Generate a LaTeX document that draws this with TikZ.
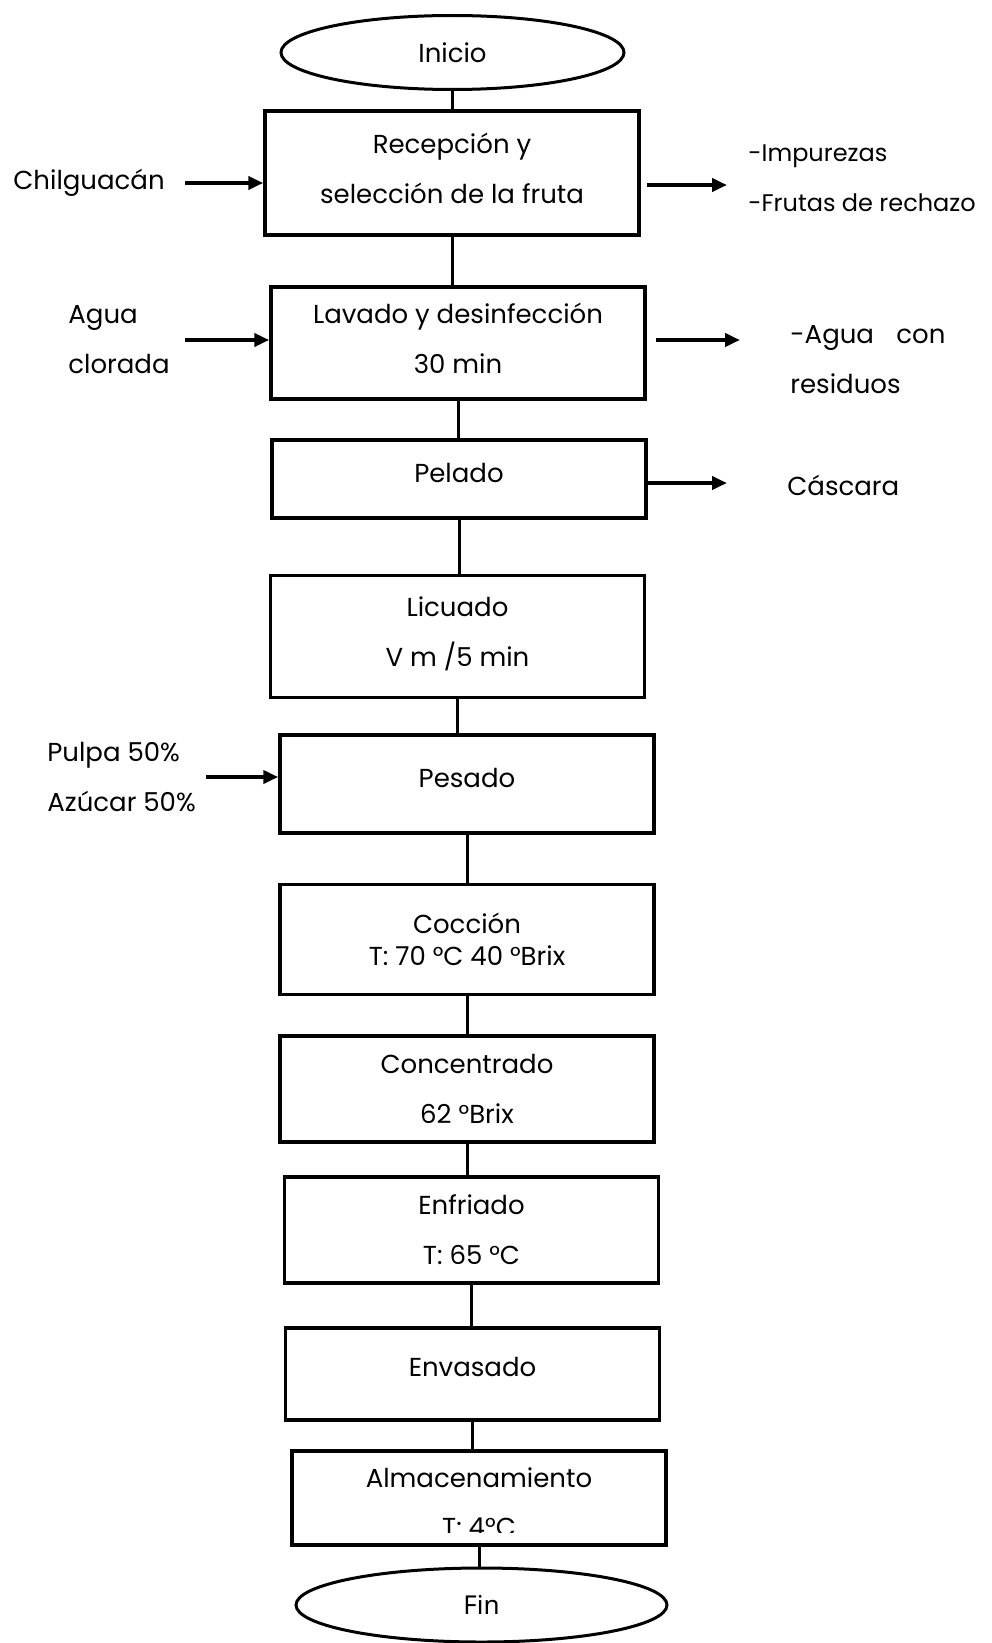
\documentclass[tikz,border=0pt]{standalone}
\usepackage{fontspec}
\setmainfont{Poppins}
\newfontfamily\finfont{Noto Sans}
\usetikzlibrary{arrows.meta, shapes.geometric}

\begin{document}
\begin{tikzpicture}[x=0.5pt, y=-0.5pt,
    every node/.style={font=\fontsize{13}{25}\selectfont},
    proceso/.style={draw, line width=1.75pt, minimum width=187pt, align=center, inner sep=0pt},
    alto/.style={execute at end node={\rule[-#1]{0pt}{0pt}}},
    terminal/.style={draw, ellipse, line width=1.5pt, inner sep=0pt},
    etiqueta/.style={inner sep=0pt, align=left},
    enlace/.style={line width=1.5pt},
    flujo/.style={line width=2pt, -{Triangle[length=7.5pt,width=6.5pt]}}]

    \useasboundingbox (0,0) rectangle (991,1643);

    % Inicio
    \node[terminal, minimum width=171.5pt, minimum height=37pt] (inicio) at (452.5,52.5) {Inicio};

    % Process steps
    \node[proceso, alto=5pt, minimum height=62pt] (recep) at (452,173) {Recepción y\\selección de la fruta};
    \node[proceso, alto=5pt, minimum height=56pt] (lavado) at (458,343) {Lavado y desinfección\\30 min};
    \node[proceso, alto=6pt, minimum height=39pt] (pelado) at (459,479) {Pelado};
    \node[proceso, alto=5pt, minimum height=61pt] (licuado) at (457.5,636.5) {Licuado\\V m /5 min};
    \node[proceso, alto=6pt, minimum height=49pt] (pesado) at (467,784) {Pesado};
    \node[proceso, minimum height=55pt, font=\fontsize{13}{16}\selectfont] (coccion) at (467,939.5) {Cocción\\T: 70 °C 40 °Brix};
    \node[proceso, minimum height=53pt] (concentrado) at (467,1089) {Concentrado\\62 °Brix};
    \node[proceso, minimum height=53pt] (enfriado) at (471.5,1230) {Enfriado\\T: 65 °C};
    \node[proceso, alto=7pt, minimum height=46pt] (envasado) at (472.5,1374) {Envasado};
    \node[proceso, minimum height=47pt] (almacen) at (479,1498) {};
    \node (almacentit) at (479,1478) {Almacenamiento};
    \begin{scope}
        \clip (290,1440) rectangle (668,1532);
        \node (almacentemp) at (479,1527) {T: 4°C};
    \end{scope}

    % Fin
    \node[terminal, minimum width=185.5pt, minimum height=37pt, font=\finfont\fontsize{13}{15}\selectfont] (fin) at (481.5,1605) {Fin};

    % Inputs
    \node[etiqueta, anchor=west] (chil) at (13,183) {Chilguacán};
    \node[etiqueta, anchor=west] (agua) at (68,340) {Agua\\clorada};
    \node[etiqueta, anchor=west] (pulpa) at (47,777) {Pulpa 50\%\\Azúcar 50\%};

    % Outputs
    \node[etiqueta, anchor=west, font=\fontsize{12}{25}\selectfont] (impurezas) at (748,178) {-Impurezas\\-Frutas de rechazo};
    \node[etiqueta, anchor=west] (aguares) at (790,360) {\makebox[77.5pt][s]{-Agua con}\\residuos};
    \node[etiqueta, anchor=west] (cascara) at (787,485) {Cáscara};
    \coordinate (sal1) at (727,185);
    \coordinate (sal2) at (740,340);
    \coordinate (sal3) at (727,483);

    % Main line
    \draw[enlace] (inicio.south) -- (inicio.south |- recep.north);
    \draw[enlace] (recep.south) -- (recep.south |- lavado.north);
    \draw[enlace] (lavado.south) -- (lavado.south |- pelado.north);
    \draw[enlace] (pelado.south) -- (pelado.south |- licuado.north);
    \draw[enlace] (licuado.south) -- (licuado.south |- pesado.north);
    \draw[enlace] (pesado.south) -- (pesado.south |- coccion.north);
    \draw[enlace] (coccion.south) -- (coccion.south |- concentrado.north);
    \draw[enlace] (concentrado.south) -- (concentrado.south |- enfriado.north);
    \draw[enlace] (enfriado.south) -- (enfriado.south |- envasado.north);
    \draw[enlace] (envasado.south) -- (envasado.south |- almacen.north);
    \draw[enlace] (almacen.south) -- (almacen.south |- fin.north);

    % Side arrows
    \draw[flujo, shorten <=10pt] (chil.east) -- (chil.east -| recep.west);
    \draw[flujo, shorten <=7.5pt] (agua.east) -- (agua.east -| lavado.west);
    \draw[flujo, shorten <=5pt] (pulpa.east) -- (pulpa.east -| pesado.west);
    \draw[flujo, shorten <=3pt] (sal1 -| recep.east) -- (sal1);
    \draw[flujo, shorten <=4.5pt] (sal2 -| lavado.east) -- (sal2);
    \draw[flujo] (sal3 -| pelado.east) -- (sal3);

\end{tikzpicture}
\end{document}
